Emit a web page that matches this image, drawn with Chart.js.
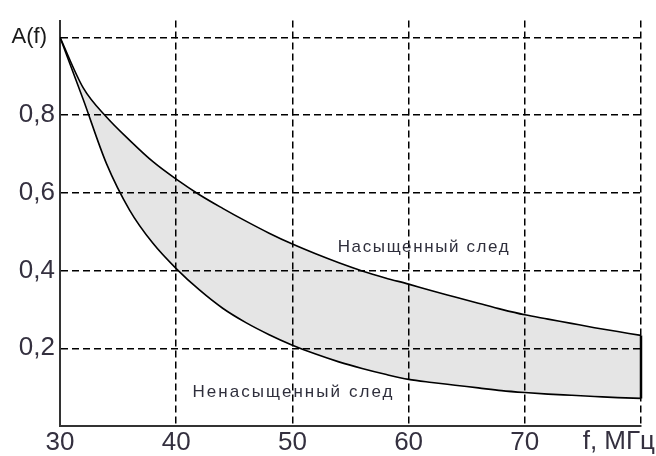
<!DOCTYPE html>
<html lang="ru">
<head>
    <meta charset="UTF-8">
    <title>A(f)</title>
    <script src="https://cdn.jsdelivr.net/npm/chart.js"></script>
    <style>
        html, body { margin: 0; padding: 0; background: #fff; }
        #wrap { width: 656px; height: 456px; }
    </style>
</head>
<body>
    <div id="wrap"><canvas id="chart" width="656" height="456"></canvas></div>

    <script>
        // frequency, MHz
        const freq = [30, 32, 34, 36, 38, 40, 42, 44, 46, 48, 50, 52, 54, 56, 58, 60, 62, 64, 66, 68, 70, 72, 74, 76, 78, 80];
        // Насыщенный след
        const saturated = [1.0, 0.87, 0.795, 0.735, 0.68, 0.635, 0.595, 0.56, 0.527, 0.496, 0.468, 0.443, 0.42, 0.399, 0.381, 0.365, 0.348, 0.332, 0.316, 0.30, 0.286, 0.275, 0.264, 0.253, 0.243, 0.233];
        // Ненасыщенный след
        const unsaturated = [1.0, 0.84, 0.675, 0.555, 0.47, 0.405, 0.35, 0.303, 0.266, 0.235, 0.208, 0.185, 0.165, 0.148, 0.133, 0.12, 0.112, 0.105, 0.098, 0.091, 0.086, 0.082, 0.079, 0.076, 0.073, 0.071];

        const xTicks = [30, 40, 50, 60, 70, 80];
        const yTicks = [0, 0.2, 0.4, 0.6, 0.8, 1.0];

        const tickFont = "'Liberation Sans Narrow', 'Arial Narrow', 'Liberation Sans', Arial, sans-serif";
        const tickColor = '#34303f';

        const toPoints = ys => freq.map((f, i) => ({ x: f, y: ys[i] }));
        const last = freq.length - 1;

        // text on the plot: curve names, axis names
        const labelsPlugin = {
            id: 'labels',
            afterDraw(chart) {
                const ctx = chart.ctx;
                const x = chart.scales.x, y = chart.scales.y;

                const spaced = (text, px, py, width) => {
                    ctx.letterSpacing = '0px';
                    const w = ctx.measureText(text).width;
                    const sp = (width - w) / (text.length - 1);
                    ctx.letterSpacing = sp.toFixed(2) + 'px';
                    ctx.fillText(text, px, py);
                    ctx.letterSpacing = '0px';
                };

                ctx.save();
                ctx.fillStyle = '#2f2f3c';
                ctx.textBaseline = 'middle';
                ctx.textAlign = 'left';
                ctx.font = "17px 'Liberation Sans', Arial, sans-serif";
                spaced('Насыщенный след', x.getPixelForValue(53.9), y.getPixelForValue(0.46), 171);
                spaced('Ненасыщенный след', x.getPixelForValue(41.4), y.getPixelForValue(0.087), 200);

                ctx.fillStyle = '#1a1a1a';
                ctx.font = "22px " + tickFont;
                ctx.textAlign = 'right';
                ctx.fillText('A(f)', x.left - 13, y.getPixelForValue(1.0));

                ctx.fillStyle = tickColor;
                ctx.font = "26px " + tickFont;
                ctx.fillText('f, МГц', chart.width - 1, y.bottom + 16);
                ctx.restore();
            }
        };

        new Chart(document.getElementById('chart'), {
            type: 'line',
            data: {
                datasets: [
                    {
                        label: 'Насыщенный след',
                        data: toPoints(saturated),
                        borderColor: '#000',
                        borderWidth: 1.6,
                        backgroundColor: 'rgba(0, 0, 0, 0.1)',
                        fill: '+1',
                        pointRadius: 0,
                        cubicInterpolationMode: 'monotone'
                    },
                    {
                        label: 'Ненасыщенный след',
                        data: toPoints(unsaturated),
                        borderColor: '#000',
                        borderWidth: 1.6,
                        fill: false,
                        pointRadius: 0,
                        cubicInterpolationMode: 'monotone'
                    },
                    {
                        // closing edge at the last frequency
                        label: 'edge',
                        data: [{ x: freq[last], y: saturated[last] }, { x: freq[last], y: unsaturated[last] }],
                        borderColor: '#000',
                        borderWidth: 2.5,
                        fill: false,
                        pointRadius: 0,
                        order: -1,
                        clip: 4
                    }
                ]
            },
            options: {
                responsive: false,
                animation: false,
                layout: { padding: { top: 15, right: 15, left: 0, bottom: 0 } },
                plugins: {
                    legend: { display: false },
                    tooltip: { enabled: false },
                    filler: { drawTime: 'beforeDatasetsDraw' }
                },
                scales: {
                    x: {
                        type: 'linear',
                        min: 30,
                        max: 80,
                        afterBuildTicks: s => { s.ticks = xTicks.map(v => ({ value: v })); },
                        afterFit: s => { s.height = 30; },
                        grid: { color: '#000', lineWidth: 1.5, drawTicks: false },
                        border: { display: true, color: '#333', width: 2, dash: [7, 4] },
                        ticks: {
                            padding: 1,
                            color: tickColor,
                            font: { family: tickFont, size: 26 },
                            maxRotation: 0,
                            callback: v => (v === 80 ? '' : String(v))
                        }
                    },
                    y: {
                        min: 0,
                        max: 1.043,
                        afterBuildTicks: s => { s.ticks = yTicks.map(v => ({ value: v })); },
                        afterFit: s => { s.width = 60; },
                        grid: { color: '#000', lineWidth: 1.5, drawTicks: false },
                        border: { display: true, color: '#333', width: 2, dash: [7, 4] },
                        ticks: {
                            padding: 5,
                            color: tickColor,
                            font: { family: tickFont, size: 26 },
                            callback: v => (v === 0 || v === 1 ? '' : v.toFixed(1).replace('.', ','))
                        }
                    }
                }
            },
            plugins: [labelsPlugin]
        });
    </script>
</body>
</html>
